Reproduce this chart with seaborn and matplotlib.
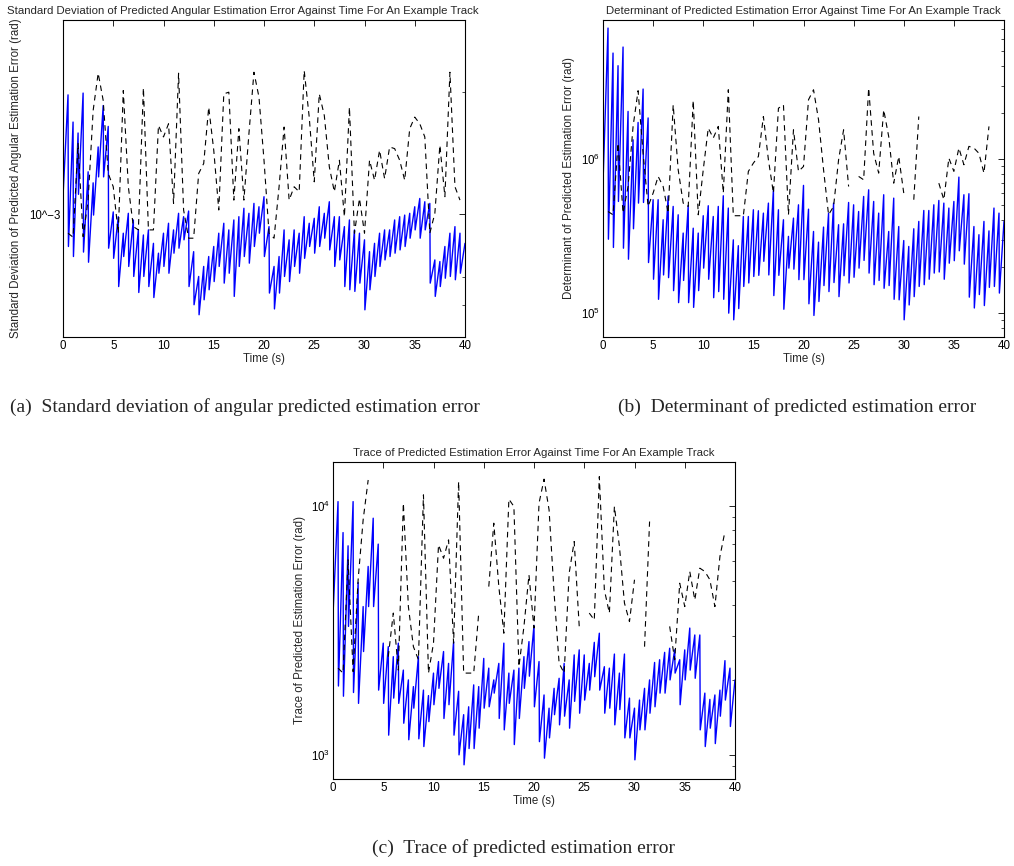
import numpy as np
import pandas as pd
import matplotlib
matplotlib.use("Agg")
import matplotlib.pyplot as plt
import matplotlib.ticker as mticker
import seaborn as sns

# ------------------------------------------------------------------ data
CYCLE = 0.5        # s, prediction / update cycle
DROP = 0.04        # s, duration of the update drop
DASH_STEP = 0.5    # s, sampling of the dashed series
nan = np.nan

# (a) std of angular predicted estimation error, in units of 1e-3 rad
STD_UNIT = 1e-3
std_trough = [1.105, 0.834, 0.788, 1.120, 0.808, 0.763, 0.996, 1.236, 1.236, 0.826,
              0.780, 0.665, 0.788, 0.745, 0.704, 0.643, 0.704, 0.665, 0.625, 0.717,
              0.745, 0.717, 0.803, 0.826, 0.866, 0.665, 0.600, 0.567, 0.617, 0.653,
              0.684, 0.745, 0.678, 0.717, 0.629, 0.745, 0.788, 0.759, 0.834, 0.899,
              0.788, 0.641, 0.586, 0.641, 0.704, 0.684, 0.745, 0.717, 0.780, 0.834,
              0.803, 0.834, 0.874, 0.818, 0.745, 0.773, 0.665, 0.653, 0.647, 0.678,
              0.583, 0.653, 0.704, 0.745, 0.773, 0.788, 0.803, 0.818, 0.834, 0.874,
              0.916, 0.874, 0.916, 0.678, 0.629, 0.665, 0.697, 0.704, 0.691, 0.717]
std_peak = [1.965, 1.685, 1.584, 1.985, 1.272, 1.195, 1.464, 1.850, 1.644, 1.014,
            0.987, 0.899, 1.006, 0.969, 0.916, 0.890, 0.916, 0.849, 0.803, 0.899,
            0.951, 0.916, 1.006, 0.987, 1.019, 0.810, 0.704, 0.745, 0.788, 0.834,
            0.899, 0.951, 0.916, 0.969, 0.987, 1.035, 1.006, 1.064, 1.044, 1.105,
            0.933, 0.745, 0.788, 0.916, 0.866, 0.916, 0.899, 0.987, 0.951, 0.978,
            1.044, 1.006, 1.074, 0.987, 0.987, 0.933, 0.969, 0.916, 0.899, 0.866,
            0.810, 0.849, 0.899, 0.916, 0.916, 0.969, 0.987, 0.996, 1.006, 1.044,
            1.094, 1.074, 1.064, 0.773, 0.766, 0.834, 0.899, 0.933, 0.899, 0.849]
std_dashed = [nan, 0.899, 0.879, 1.492, 0.882, 1.084, 1.799, 2.221, 1.904, 1.260,
              1.169, 0.899, 2.014, 1.169, 0.933, 0.916, 2.044, 0.916, 0.916, 1.653,
              1.549, 1.669, 1.064, 2.221, 1.025, 0.874, 0.874, 1.260, 1.333, 1.833,
              1.437, 1.025, 1.976, 1.995, 1.084, 1.623, 1.084, 1.578, 2.233, 1.940,
              1.358, 0.899, 0.874, 1.169, 1.638, 1.084, 1.169, 1.136, 2.254, 1.733,
              1.202, 1.976, 1.749, 1.308, 1.136, 1.358, 0.987, 1.833, 0.899, 1.094,
              0.899, 1.358, 1.213, 1.437, 1.224, 1.464, 1.450, 1.358, 1.213, 1.623,
              1.733, 1.669, 1.549, 0.899, 1.006, 1.478, 1.105, 2.233, 1.169, 1.084, nan]

# (b) determinant of predicted estimation error
det_trough = [7.0e5, 3.02e5, 2.67e5, 5.31e5, 2.64e5, 2.24e5, 3.53e5, 5.18e5, 5.23e5, 2.13e5,
              1.66e5, 1.23e5, 1.77e5, 1.70e5, 1.40e5, 1.17e5, 1.63e5, 1.17e5, 1.09e5, 1.40e5,
              1.96e5, 1.66e5, 1.26e5, 1.38e5, 1.23e5, 1.00e5, 9.05e4, 1.07e5, 1.49e5, 1.57e5,
              1.73e5, 1.76e5, 2.17e5, 1.77e5, 1.30e5, 1.76e5, 1.06e5, 1.96e5, 1.93e5, 1.65e5,
              1.65e5, 1.15e5, 9.66e4, 1.19e5, 1.51e5, 1.38e5, 1.58e5, 1.28e5, 1.75e5, 1.57e5,
              1.71e5, 1.96e5, 2.20e5, 1.82e5, 1.53e5, 1.63e5, 1.45e5, 1.51e5, 1.23e5, 1.22e5,
              9.05e4, 1.13e5, 1.28e5, 1.49e5, 1.53e5, 1.66e5, 1.82e5, 1.85e5, 1.66e5, 2.11e5,
              2.19e5, 2.54e5, 2.08e5, 1.27e5, 1.08e5, 1.32e5, 1.12e5, 1.47e5, 1.49e5, 1.35e5]
det_peak = [7.09e6, 4.88e6, 4.04e6, 5.34e6, 2.04e6, 1.335e6, 1.73e6, 2.85e6, 1.85e6, 5.45e5,
            5.45e5, 4.04e5, 5.75e5, 4.93e5, 4.35e5, 3.31e5, 5.00e5, 3.56e5, 3.31e5, 4.29e5,
            4.98e5, 4.24e5, 4.93e5, 5.78e5, 4.81e5, 2.99e5, 2.74e5, 4.24e5, 4.24e5, 4.69e5,
            4.62e5, 4.46e5, 5.18e5, 6.32e5, 4.69e5, 4.04e5, 3.15e5, 4.14e5, 5.05e5, 6.75e5,
            4.73e5, 3.39e5, 2.89e5, 3.62e5, 4.46e5, 5.18e5, 3.75e5, 3.80e5, 5.23e5, 5.05e5,
            4.57e5, 5.72e5, 6.32e5, 5.31e5, 4.46e5, 5.87e5, 3.39e5, 5.58e5, 3.65e5, 2.96e5,
            2.71e5, 3.53e5, 3.94e5, 4.64e5, 4.64e5, 5.05e5, 5.39e5, 5.18e5, 4.81e5, 5.31e5,
            7.64e5, 5.87e5, 5.96e5, 3.65e5, 3.23e5, 3.94e5, 3.42e5, 4.81e5, 4.46e5, 3.94e5]
det_dashed = [nan, 4.57e5, 4.35e5, 1.27e6, 4.46e5, 6.64e5, 1.63e6, 2.78e6, 1.09e6, 4.93e5,
              6.02e5, 7.72e5, 6.64e5, 4.46e5, 2.25e6, 8.53e5, 5.18e5, 4.93e5, 2.40e6, 4.35e5,
              8.53e5, 1.59e6, 1.37e6, 1.63e6, 6.02e5, 2.82e6, 4.29e5, 4.29e5, 4.29e5, 8.32e5,
              9.42e5, 1.04e6, 1.89e6, 9.90e5, 6.02e5, 2.14e6, 2.25e6, 4.35e5, 1.55e6, 8.32e5,
              8.96e5, 2.43e6, 2.82e6, 1.80e6, 8.53e5, 4.35e5, 4.93e5, 9.90e5, 1.55e6, 6.64e5,
              nan, 7.72e5, 7.34e5, 2.89e6, 1.09e6, 8.11e5, 2.09e6, 1.40e6, 6.98e5, 1.04e6,
              6.02e5, nan, 5.45e5, 1.89e6, nan, nan, nan, 6.98e5, 5.45e5, 1.015e6,
              8.32e5, 1.18e6, 9.19e5, 1.21e6, 1.18e6, 1.09e6, 8.11e5, 1.63e6, nan, nan, nan]

# (c) trace of predicted estimation error
trace_trough = [3.65e3, 1.89e3, 1.72e3, 3.28e3, 1.78e3, 1.61e3, 2.60e3, 3.94e3, 3.94e3, 1.82e3,
                1.61e3, 1.20e3, 1.69e3, 1.61e3, 1.34e3, 1.15e3, 1.54e3, 1.16e3, 1.08e3, 1.36e3,
                1.59e3, 1.85e3, 1.40e3, 1.59e3, 1.20e3, 1.00e3, 9.12e2, 1.06e3, 1.06e3, 1.28e3,
                1.54e3, 1.56e3, 1.77e3, 1.40e3, 1.26e3, 1.61e3, 1.10e3, 1.40e3, 1.85e3, 2.07e3,
                1.56e3, 1.13e3, 9.70e2, 1.17e3, 1.45e3, 1.32e3, 1.43e3, 1.28e3, 1.64e3, 1.47e3,
                1.66e3, 1.82e3, 2.06e3, 1.82e3, 1.47e3, 1.54e3, 1.32e3, 1.52e3, 1.17e3, 1.17e3,
                9.55e2, 1.26e3, 1.26e3, 1.47e3, 1.56e3, 1.77e3, 1.77e3, 2.00e3, 2.13e3, 1.59e3,
                2.00e3, 2.19e3, 2.03e3, 1.26e3, 1.08e3, 1.28e3, 1.11e3, 1.43e3, 1.66e3, 1.30e3]
trace_peak = [1.04e4, 7.81e3, 6.91e3, 1.04e4, 4.92e3, 3.94e3, 5.71e3, 8.92e3, 7.02e3, 2.81e3,
              2.72e3, 2.48e3, 2.81e3, 2.19e3, 2.00e3, 1.88e3, 2.48e3, 1.82e3, 1.73e3, 2.13e3,
              2.37e3, 2.60e3, 2.33e3, 2.85e3, 1.80e3, 1.45e3, 1.56e3, 1.91e3, 1.88e3, 2.44e3,
              2.23e3, 2.00e3, 2.33e3, 2.81e3, 2.13e3, 2.19e3, 2.23e3, 2.48e3, 2.85e3, 3.31e3,
              2.37e3, 1.74e3, 1.54e3, 1.85e3, 2.03e3, 2.33e3, 2.00e3, 2.52e3, 2.64e3, 2.52e3,
              2.33e3, 2.83e3, 3.08e3, 2.26e3, 2.23e3, 2.54e3, 2.13e3, 2.54e3, 1.69e3, 1.54e3,
              1.66e3, 1.85e3, 2.00e3, 2.35e3, 2.41e3, 2.58e3, 2.68e3, 2.64e3, 2.41e3, 2.64e3,
              3.23e3, 3.03e3, 3.03e3, 1.77e3, 1.67e3, 1.74e3, 1.82e3, 2.39e3, 2.23e3, 2.00e3]
trace_dashed = [nan, 2.23e3, 2.13e3, 6.07e3, 2.16e3, 5.05e3, 8.79e3, 1.27e4, nan, nan,
                nan, 2.48e3, 3.71e3, 2.19e3, 1.025e4, 3.94e3, 2.72e3, 2.41e3, 1.107e4, 2.13e3,
                2.81e3, 6.97e3, 6.16e3, 7.30e3, 2.81e3, 1.252e4, 2.13e3, 2.13e3, 2.13e3, 3.71e3,
                nan, 4.74e3, 8.52e3, 4.74e3, 3.08e3, 1.064e4, 9.94e3, 2.26e3, 3.28e3, 5.28e3,
                3.23e3, 1.025e4, 1.28e4, 9.63e3, 4.46e3, 2.33e3, 2.13e3, 5.37e3, 7.19e3, 3.28e3,
                nan, 3.71e3, 3.48e3, 1.31e4, 4.60e3, 3.71e3, 9.94e3, 6.87e3, 4.07e3, 3.43e3,
                5.05e3, nan, 2.72e3, 8.65e3, nan, nan, nan, 3.28e3, 2.41e3, 4.89e3,
                3.94e3, 5.45e3, 4.19e3, 5.62e3, 5.45e3, 5.05e3, 3.94e3, 6.26e3, 7.89e3, nan, nan]

titles = ["Standard Deviation of Predicted Angular Estimation Error Against Time For An Example Track",
          "Determinant of Predicted Estimation Error Against Time For An Example Track",
          "Trace of Predicted Estimation Error Against Time For An Example Track"]
ylabels = ["Standard Deviation of Predicted Angular Estimation Error (rad)",
           "Determinant of Predicted Estimation Error (rad)",
           "Trace of Predicted Estimation Error (rad)"]
captions = ["(a)  Standard deviation of angular predicted estimation error",
            "(b)  Determinant of predicted estimation error",
            "(c)  Trace of predicted estimation error"]
x_ticks = [0, 5, 10, 15, 20, 25, 30, 35, 40]


# ------------------------------------------------------------------ helpers
def sawtooth_frame(troughs, peaks, scale=1.0):
    n = len(troughs)
    k = np.arange(n)
    t = np.empty(2 * n)
    v = np.empty(2 * n)
    t[0::2] = k * CYCLE + np.where(k > 0, DROP, 0.0)
    t[1::2] = (k + 1) * CYCLE
    v[0::2] = np.asarray(troughs, float) * scale
    v[1::2] = np.asarray(peaks, float) * scale
    return pd.DataFrame({"time": t, "value": v})


def dashed_frame(values, scale=1.0):
    v = np.asarray(values, float) * scale
    t = np.arange(len(v)) * DASH_STEP
    seg = np.cumsum(np.isnan(v))
    return pd.DataFrame({"time": t, "value": v, "seg": seg}).dropna()


# ------------------------------------------------------------------ style
sns.set_theme(style="white")
plt.rcParams.update({
    "font.family": ["Liberation Sans", "DejaVu Sans"],
    "mathtext.fontset": "custom",
    "mathtext.rm": "Liberation Sans",
    "mathtext.it": "Liberation Sans:italic",
    "axes.edgecolor": "black",
    "axes.linewidth": 0.8,
    "xtick.color": "black",
    "ytick.color": "black",
})

W, H = 1014, 866
fig = plt.figure(figsize=(W / 100, H / 100), dpi=100)
fig.patch.set_facecolor("white")


def px_axes(left, top, right, bottom):
    return fig.add_axes([left / W, 1 - bottom / H, (right - left) / W, (bottom - top) / H])


axA = px_axes(63, 20, 465, 337)
axB = px_axes(603, 20, 1004, 337)
axC = px_axes(333, 462, 735, 779)

panels = [
    (axA, sawtooth_frame(std_trough, std_peak, STD_UNIT), dashed_frame(std_dashed, STD_UNIT)),
    (axB, sawtooth_frame(det_trough, det_peak), dashed_frame(det_dashed)),
    (axC, sawtooth_frame(trace_trough, trace_peak), dashed_frame(trace_dashed)),
]

for i, (ax, blue, dash) in enumerate(panels):
    sns.lineplot(data=blue, x="time", y="value", color="#0000ff", linewidth=1.0,
                 estimator=None, sort=False, ax=ax)
    n0 = len(ax.lines)
    sns.lineplot(data=dash, x="time", y="value", units="seg", color="black",
                 linewidth=0.8, estimator=None, sort=False, ax=ax)
    for ln in ax.lines[n0:]:
        ln.set_dashes([5, 4])
    ax.set_yscale("log")
    ax.set_xlim(0, 40)
    ax.set_xticks(x_ticks)
    ax.set_xticklabels([str(x) for x in x_ticks])
    ax.tick_params(which="both", direction="in", top=True, right=True,
                   labelsize=8.3, pad=2)
    ax.tick_params(which="major", length=4, width=0.6)
    ax.tick_params(which="minor", length=2.5, width=0.5)
    ax.set_xlabel("Time (s)", fontsize=8.3, labelpad=1)
    ax.set_ylabel(ylabels[i], fontsize=8.3)
    for s in ax.spines.values():
        s.set_visible(True)

# panel-specific y axes
axA.set_ylim(5e-4, 3e-3)
axA.set_yticks([1e-3])
axA.set_yticklabels(["10^\u22123"])
axA.set_yticks([6e-4, 7e-4, 2e-3], minor=True)
axA.yaxis.set_minor_formatter(mticker.NullFormatter())

axB.set_ylim(7e4, 8e6)
axB.set_yticks([1e5, 1e6])
axB.set_yticklabels(["$10^5$", "$10^6$"])
axB.yaxis.set_minor_locator(mticker.LogLocator(base=10, subs=np.arange(2, 10)))
axB.yaxis.set_minor_formatter(mticker.NullFormatter())

axC.set_ylim(800, 1.5e4)
axC.set_yticks([1e3, 1e4])
axC.set_yticklabels(["$10^3$", "$10^4$"])
axC.yaxis.set_minor_locator(mticker.LogLocator(base=10, subs=np.arange(2, 10)))
axC.yaxis.set_minor_formatter(mticker.NullFormatter())

# titles & label placement
axA.set_title(titles[0], fontsize=8.2, pad=4, x=0.448)
axB.set_title(titles[1], fontsize=8.2, pad=4)
axC.set_title(titles[2], fontsize=8.2, pad=4)
axA.yaxis.set_label_coords(-0.102, 0.5)
axB.yaxis.set_label_coords(-0.070, 0.5)
axC.yaxis.set_label_coords(-0.067, 0.5)

# captions
cap_kw = dict(ha="center", va="center", fontsize=14, family=["Liberation Serif", "DejaVu Serif"])
fig.text(245 / W, 1 - 407 / H, captions[0], **cap_kw)
fig.text(797 / W, 1 - 407 / H, captions[1], **cap_kw)
fig.text(523 / W, 1 - 848 / H, captions[2], **cap_kw)

fig.savefig("out.png", dpi=100, facecolor="white")
